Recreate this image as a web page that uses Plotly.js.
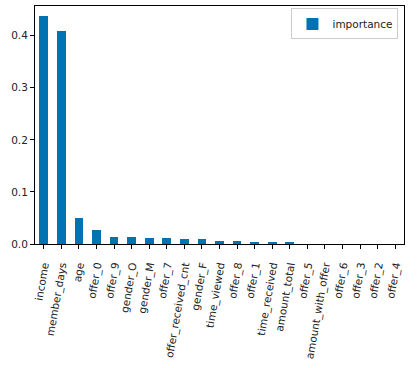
<!DOCTYPE html>
<html>
<head>
<meta charset="utf-8">
<script src="https://cdn.plot.ly/plotly-3.0.1.min.js"></script>
<style>html,body{margin:0;padding:0;background:#fff;}#chart{width:420px;height:368px;}</style>
</head>
<body>
<div id="chart"></div>
<script>
const features = ["income","member_days","age","offer_0","offer_9","gender_O","gender_M","offer_7","offer_received_cnt","gender_F","time_viewed","offer_8","offer_1","time_received","amount_total","offer_5","amount_with_offer","offer_6","offer_3","offer_2","offer_4"];
const importance = [0.437,0.409,0.050,0.027,0.014,0.014,0.012,0.012,0.010,0.010,0.006,0.006,0.003,0.003,0.003,0.0005,0.0003,0.0002,0.0002,0.0001,0.0001];
const yTicks = [0.0,0.1,0.2,0.3,0.4];
const yTickText = ["0.0","0.1","0.2","0.3","0.4"];

const trace = {
  type: 'bar',
  x: features.map((_, i) => i),
  y: importance,
  name: 'importance',
  width: 0.5,
  marker: {color: '#0173b2', line: {width: 0}},
  showlegend: true
};

const layout = {
  width: 420, height: 368,
  margin: {l: 35, r: 16, t: 6, b: 124},
  paper_bgcolor: '#fff', plot_bgcolor: '#fff',
  font: {family: 'DejaVu Sans', size: 10.5, color: '#222'},
  bargap: 0,
  xaxis: {
    range: [-0.5, 20.5],
    tickmode: 'array',
    tickvals: features.map((_, i) => i),
    ticktext: features,
    tickangle: -80,
    ticks: 'outside', ticklen: 4, tickcolor: '#000', tickwidth: 1,
    ticklabelstandoff: 6,
    showline: true, linecolor: '#000', linewidth: 1, mirror: true,
    showgrid: false, zeroline: false,
    tickfont: {family: 'DejaVu Sans', size: 10.5, color: '#222'}
  },
  yaxis: {
    range: [0, 0.457],
    tickmode: 'array', tickvals: yTicks, ticktext: yTickText,
    ticks: 'outside', ticklen: 4, tickcolor: '#000', tickwidth: 1,
    showline: true, linecolor: '#000', linewidth: 1, mirror: true,
    showgrid: false, zeroline: false,
    tickfont: {family: 'DejaVu Sans', size: 10.5, color: '#222'}
  },
  legend: {
    x: 0.985, y: 0.99, xanchor: 'right', yanchor: 'top',
    bgcolor: 'rgba(255,255,255,0.8)', bordercolor: '#ccc', borderwidth: 1,
    font: {family: 'DejaVu Sans', size: 10.5, color: '#222'}
  }
};

Plotly.newPlot('chart', [trace], layout, {displayModeBar: false, staticPlot: true});
</script>
</body>
</html>
